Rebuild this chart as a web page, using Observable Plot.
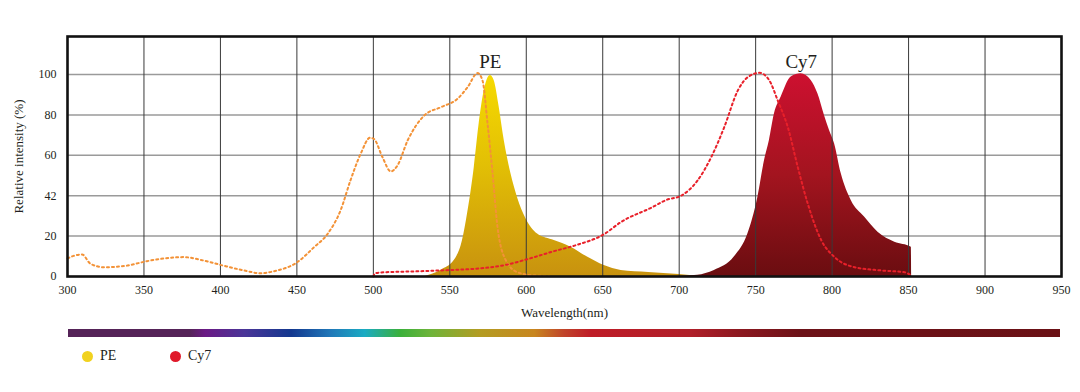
<!DOCTYPE html>
<html>
<head>
<meta charset="utf-8">
<script src="https://cdn.jsdelivr.net/npm/d3@7"></script>
<script src="https://cdn.jsdelivr.net/npm/@observablehq/plot@0.6"></script>
<style>
  body { margin: 0; background: #fff; font-family: "Liberation Serif", serif; color: #231f20; }
  #wrap { position: relative; width: 1080px; height: 392px; }
  #spectrum { position: absolute; left: 68px; top: 329px; width: 992px; height: 8px;
    background: linear-gradient(to right, #552358 0%, #552358 12.3%, #6b1a85 13.8%, #4a3598 17.8%, #13388f 22.5%, #2077b8 26.4%, #1aabc3 29.9%, #3bb03a 33.5%, #6db43a 36.5%, #b39c22 41.5%, #c8861f 47%, #c0442a 50%, #bf1c27 52.7%, #b01f29 62.7%, #8c1820 67.8%, #6d1218 73.8%, #6b1116 100%); }
  #legend { position: absolute; left: 82px; top: 348px; display: flex; gap: 0; font-size: 14px; }
  .item { display: flex; align-items: center; width: 88px; }
  .dot { width: 11px; height: 11px; border-radius: 50%; margin-right: 7px; }
</style>
</head>
<body>
<div id="wrap">
  <div id="chart"></div>
  <div id="spectrum"></div>
  <div id="legend"></div>
</div>
<script>
// ---- Data ----
const dyes = ["PE", "Cy7"];
const dyeColors = ["#f1d21f", "#e0192a"];

const peExWavelength = [300, 304, 309.6, 315, 323.8, 339, 352, 360.8, 376, 389, 402.3, 415.4, 426.3, 435, 450.3, 461.2, 470, 478.7, 485, 491.8, 497.9, 500.5, 506, 511.4, 515.8, 522.4, 533.3, 544.2, 555.1, 561.6, 568.2, 571.4, 574.7, 578, 581.2, 586.7, 594.3, 605, 615];
const peExIntensity  = [8.9, 10.2, 10.9, 6.3, 4.6, 5.4, 7.6, 8.7, 9.6, 7.9, 5.3, 3.0, 1.6, 2.6, 7.1, 14.5, 21, 33, 47.5, 60.9, 68.7, 68, 59, 52, 55, 67.3, 79.7, 83.8, 88, 93.7, 100.7, 97, 75.6, 50.8, 24.4, 7.9, 2.1, 0.5, 0.2];

const peEmWavelength = [534, 544, 553, 558.3, 561.6, 566, 569.2, 572.5, 576.5, 579, 582.3, 585.6, 590, 594.3, 599.8, 607.4, 618.3, 629.2, 640, 651, 662, 680, 700, 714];
const peEmIntensity  = [0, 3, 8, 17.8, 31, 54, 75.6, 92, 99.5, 97, 83.8, 67.3, 50.8, 39, 28.6, 21, 17.8, 14.5, 9.6, 5.4, 3, 2, 1, 0];

const cy7ExWavelength = [500, 501, 505, 530, 550, 566, 585, 601.3, 618, 631.6, 651, 662, 681.6, 692, 701.3, 712, 720.9, 729.5, 738.3, 744.9, 752.5, 759, 764.5, 771, 777.6, 784.1, 793, 801.6, 814.7, 832, 847.4, 851.8];
const cy7ExIntensity  = [0, 1.5, 2, 2.6, 3.2, 3.8, 5.5, 8.7, 12.5, 15.3, 21, 27, 34, 38, 40, 47.5, 59, 74, 92, 98.7, 100.8, 97, 87, 74, 54, 36, 17.8, 9.6, 4.6, 3, 2.1, 0.5];

const cy7EmWavelength = [700, 712, 723, 736, 744.9, 751.4, 755.8, 759, 762.3, 766.7, 773.2, 779.8, 786.3, 790.7, 795, 798.3, 801.6, 806, 812.5, 821.2, 830, 841, 851.8, 852];
const cy7EmIntensity  = [0, 0.6, 3, 9.6, 21, 39, 57.4, 67.3, 80.5, 88.8, 98.7, 100.3, 97, 90.4, 79.7, 72.3, 65.7, 50.8, 37.6, 29.4, 21.9, 17, 14.5, 0];

const xTicks = [300, 350, 400, 450, 500, 550, 600, 650, 700, 750, 800, 850, 900, 950];
const yTicks = [0, 20, 40, 60, 80, 100];
const yTickLabels = ["0", "20", "42", "60", "80", "100"];

// ---- Build tables ----
const toRows = (xs, ys) => xs.map((x, i) => ({x, y: ys[i]}));
const peEx = toRows(peExWavelength, peExIntensity);
const peEm = toRows(peEmWavelength, peEmIntensity);
const cy7Ex = toRows(cy7ExWavelength, cy7ExIntensity);
const cy7Em = toRows(cy7EmWavelength, cy7EmIntensity);
const peakOf = rows => rows.reduce((a, b) => (b.y > a.y ? b : a));
const peakLabels = [
  {name: dyes[0], x: peakOf(peEm).x, y: 100},
  {name: dyes[1], x: peakOf(cy7Em).x, y: 100}
];

const ns = "http://www.w3.org/2000/svg";
function gradientDefs() {
  const defs = document.createElementNS(ns, "defs");
  const mk = (id, stops) => {
    const g = document.createElementNS(ns, "linearGradient");
    g.setAttribute("id", id);
    g.setAttribute("x1", "0"); g.setAttribute("y1", "0");
    g.setAttribute("x2", "0"); g.setAttribute("y2", "1");
    for (const [off, col] of stops) {
      const s = document.createElementNS(ns, "stop");
      s.setAttribute("offset", off);
      s.setAttribute("stop-color", col);
      g.appendChild(s);
    }
    defs.appendChild(g);
  };
  mk("peGrad", [["0", "#f6da00"], ["0.45", "#e2bf05"], ["1", "#c8920f"]]);
  mk("cy7Grad", [["0", "#cd1030"], ["0.5", "#a3141f"], ["1", "#6a0d10"]]);
  return defs;
}

const chart = Plot.plot({
  width: 1080,
  height: 322,
  marginLeft: 67,
  marginRight: 19,
  marginTop: 36,
  marginBottom: 46,
  style: {fontFamily: "Liberation Serif", fontSize: "12px", color: "#231f20", background: "transparent"},
  x: {domain: [300, 950]},
  y: {domain: [0, 118.8]},
  marks: [
    gradientDefs,
    Plot.gridY(yTicks.slice(1), {stroke: "#9a9a9a", strokeOpacity: 1, strokeWidth: 1.5}),
    Plot.areaY(peEm, {x: "x", y: "y", fill: "url(#peGrad)", curve: "monotone-x"}),
    Plot.areaY(cy7Em, {x: "x", y: "y", fill: "url(#cy7Grad)", curve: "monotone-x"}),
    Plot.gridX(xTicks.slice(1, -1), {stroke: "#3a3a3a", strokeOpacity: 1, strokeWidth: 1}),
    Plot.line(peEx, {x: "x", y: "y", stroke: "#f39237", strokeWidth: 2, strokeDasharray: "2,3", curve: "monotone-x"}),
    Plot.line(cy7Ex, {x: "x", y: "y", stroke: "#e8202a", strokeWidth: 2, strokeDasharray: "2,3", curve: "monotone-x"}),
    Plot.text(peakLabels, {x: "x", y: "y", text: "name", dy: -6, lineAnchor: "bottom", fontSize: 19, fill: "#231f20"}),
    Plot.axisX(xTicks, {tickSize: 0, tickPadding: 9, fontSize: 12, label: "Wavelength(nm)", labelAnchor: "center", labelOffset: 40, labelArrow: "none"}),
    Plot.axisY(yTicks, {tickSize: 0, tickPadding: 11, fontSize: 12, tickFormat: (d, i) => yTickLabels[i], label: "Relative intensity (%)", labelAnchor: "center", labelOffset: 54, labelArrow: "none"}),
    Plot.frame({stroke: "#111", strokeWidth: 2.6})
  ]
});
chart.querySelectorAll("[aria-label='x-axis label'] text, [aria-label='y-axis label'] text").forEach(t => t.setAttribute("font-size", "13"));
document.getElementById("chart").appendChild(chart);

const legend = document.getElementById("legend");
dyes.forEach((d, i) => {
  const item = document.createElement("div");
  item.className = "item";
  item.innerHTML = `<span class="dot" style="background:${dyeColors[i]}"></span><span>${d}</span>`;
  legend.appendChild(item);
});
</script>
</body>
</html>
